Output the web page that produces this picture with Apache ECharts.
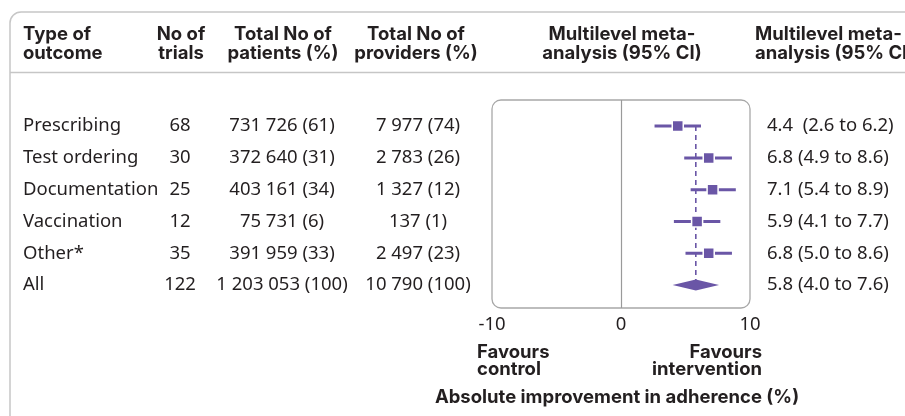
<!DOCTYPE html>
<html><head><meta charset="utf-8">
<script src="https://cdn.jsdelivr.net/npm/echarts@6/dist/echarts.min.js"></script>
<style>html,body{margin:0;padding:0;background:#fff}#c{width:905px;height:416px}</style>
</head><body><div id="c"></div><script>
const outcomes = ['Prescribing', 'Test ordering', 'Documentation', 'Vaccination', 'Other*', 'All'];
const trials = ['68', '30', '25', '12', '35', '122'];
const patients = ['731 726 (61)', '372 640 (31)', '403 161 (34)', '75 731 (6)', '391 959 (33)', '1 203 053 (100)'];
const providers = ['7 977 (74)', '2 783 (26)', '1 327 (12)', '137 (1)', '2 497 (23)', '10 790 (100)'];
const estimate = [4.4, 6.8, 7.1, 5.9, 6.8, 5.8];
const lower = [2.6, 4.9, 5.4, 4.1, 5.0, 4.0];
const upper = [6.2, 8.6, 8.9, 7.7, 8.6, 7.6];
const ciText = ['4.4  (2.6 to 6.2)', '6.8 (4.9 to 8.6)', '7.1 (5.4 to 8.9)', '5.9 (4.1 to 7.7)', '6.8 (5.0 to 8.6)', '5.8 (4.0 to 7.6)'];
const headers = ['Type of\noutcome', 'No of\ntrials', 'Total No of\npatients (%)', 'Total No of\nproviders (%)', 'Multilevel meta-\nanalysis (95% CI)', 'Multilevel meta-\nanalysis (95% CI)'];
const xMin = -10, xMax = 10, xStep = 10;
const axisTitle = 'Absolute improvement in adherence (%)';
const favLeft = 'Favours\ncontrol';
const favRight = 'Favours\nintervention';

const PURPLE = '#6a56a6';
const TXT = '#231f20';
const BODY = '"Noto Sans", sans-serif';
const BOLD = 'Inter, "Noto Sans", sans-serif';
const BODY_SIZE = 18.5;
const yMin = -0.82, yMax = 5.72;

const chart = echarts.init(document.getElementById('c'), null, {renderer: 'canvas'});
const allIdx = outcomes.length - 1;
const forestData = outcomes.map((o, i) => [i, estimate[i], lower[i], upper[i]]);

chart.setOption({
  animation: false,
  grid: {left: 492, right: 155, top: 100, bottom: 108},
  xAxis: {
    type: 'value', min: xMin, max: xMax, interval: xStep,
    axisLine: {show: false}, axisTick: {show: false}, splitLine: {show: false},
    axisLabel: {fontSize: BODY_SIZE, color: TXT, fontFamily: BODY, margin: 7},
    name: axisTitle, nameLocation: 'middle', nameGap: 80,
    nameTextStyle: {fontSize: 18.5, fontWeight: 'bold', color: TXT, fontFamily: BOLD, padding: [0, 8, 0, 0]}
  },
  yAxis: {type: 'value', inverse: true, min: yMin, max: yMax, show: false},
  series: [
    {
      type: 'line', z: 2, silent: true, symbol: 'none',
      data: [[estimate[allIdx], 0], [estimate[allIdx], allIdx]],
      lineStyle: {color: PURPLE, width: 1.6, type: [5, 4]},
      markLine: {
        silent: true, symbol: 'none', label: {show: false},
        lineStyle: {color: '#9a9a9a', width: 1.2, type: 'solid'},
        data: [{xAxis: 0}]
      }
    },
    {
      type: 'custom', z: 3,
      data: forestData,
      encode: {x: [1, 2, 3], y: 0},
      renderItem: function (params, api) {
        const i = api.value(0);
        const c = api.coord([api.value(1), i]);
        const lo = api.coord([api.value(2), i]);
        const hi = api.coord([api.value(3), i]);
        if (i === allIdx) {
          return {
            type: 'polygon',
            shape: {points: [[lo[0], c[1]], [c[0], c[1] - 5.5], [hi[0], c[1]], [c[0], c[1] + 5.5]]},
            style: {fill: PURPLE}
          };
        }
        const s = 11;
        return {
          type: 'group',
          children: [
            {type: 'line', shape: {x1: lo[0], y1: c[1], x2: hi[0], y2: c[1]}, style: {stroke: PURPLE, lineWidth: 3}},
            {type: 'rect', shape: {x: c[0] - s / 2, y: c[1] - s / 2, width: s, height: s},
             style: {fill: PURPLE, stroke: '#fff', lineWidth: 1.5}}
          ]
        };
      }
    }
  ]
});

function yPix(i) { return chart.convertToPixel({yAxisIndex: 0}, i); }
function xPix(v) { return chart.convertToPixel({xAxisIndex: 0}, v); }

const graphics = [];
const boxL = xPix(xMin), boxR = xPix(xMax), boxT = yPix(yMin), boxB = yPix(yMax);
graphics.push({type: 'rect', z: 1, silent: true,
  shape: {x: boxL, y: boxT, width: boxR - boxL, height: boxB - boxT, r: 9},
  style: {fill: 'none', stroke: '#a8a8a8', lineWidth: 1.3}});
// card border (right/bottom edges fall outside the view)
graphics.push({type: 'rect', silent: true, z: 1,
  shape: {x: 10, y: 12, width: 1200, height: 800, r: 11},
  style: {fill: 'none', stroke: '#c6c6c6', lineWidth: 1.5}});
graphics.push({type: 'line', silent: true, z: 1,
  shape: {x1: 10, y1: 72.5, x2: 910, y2: 72.5},
  style: {stroke: '#c6c6c6', lineWidth: 1.5}});

function txt(t, x, y, align, font, weight, lh, size) {
  graphics.push({type: 'text', silent: true, z: 5, x: x, y: y,
    style: {text: t, fill: TXT, font: (weight || 'normal') + ' ' + (size || BODY_SIZE) + 'px ' + font,
      textAlign: align, textVerticalAlign: 'middle', lineHeight: lh || 20}});
}
// headers
const hdrX = [[23, 'left'], [181, 'center'], [283, 'center'], [416, 'center'], [622, 'center'], [755, 'left']];
headers.forEach((h, k) => txt(h, hdrX[k][0], 44, hdrX[k][1], BOLD, 'bold', 19, 18.5));
// rows
outcomes.forEach((o, i) => {
  const y = yPix(i);
  txt(o, 23, y, 'left', BODY);
  txt(trials[i], 180, y, 'center', BODY);
  txt(patients[i], 282, y, 'center', BODY);
  txt(providers[i], 418, y, 'center', BODY);
  txt(ciText[i], 767, y, 'left', BODY);
});
txt(favLeft, boxL - 15, 361, 'left', BOLD, 'bold', 17, 18.5);
txt(favRight, boxR + 12, 361, 'right', BOLD, 'bold', 17, 18.5);

chart.setOption({graphic: graphics});
</script></body></html>
